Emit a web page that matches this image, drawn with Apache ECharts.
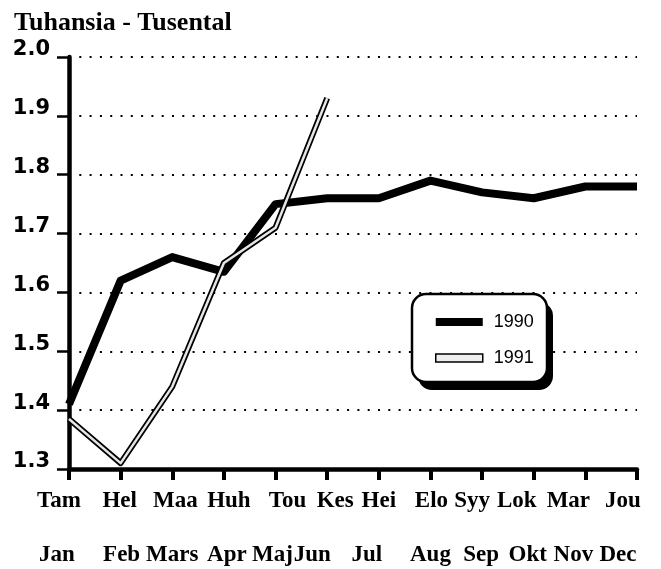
<!DOCTYPE html>
<html>
<head>
<meta charset="utf-8">
<script src="https://cdn.jsdelivr.net/npm/echarts@6/dist/echarts.min.js"></script>
<style>
  html, body { margin: 0; padding: 0; background: #fff; }
  #chart { width: 661px; height: 569px; }
</style>
</head>
<body>
<div id="chart"></div>
<script>
// month names, Finnish row and Swedish row
const monthsFi = ["Tam", "Hel", "Maa", "Huh", "Tou", "Kes", "Hei", "Elo", "Syy", "Lok", "Mar", "Jou"];
const monthsSv = ["Jan", "Feb", "Mars", "Apr", "Maj", "Jun", "Jul", "Aug", "Sep", "Okt", "Nov", "Dec"];

// values in thousands
const values1990 = [1.41, 1.62, 1.66, 1.635, 1.75, 1.76, 1.76, 1.79, 1.77, 1.76, 1.78, 1.78];
const values1991 = [1.385, 1.31, 1.44, 1.65, 1.71, 1.93];

const yTicks = [1.3, 1.4, 1.5, 1.6, 1.7, 1.8, 1.9, 2.0];

// the month names in the original are typed, not centred on the ticks: px shift per label
const shiftFi = [-10, -1, 3, 5, 12, 8, 0, 1, -10, -17, -17, -14];
const shiftSv = [-12, 1, 0, 3, -3, -15, -12, 0, -1, -6, -12, -19];

const labelRich = {};
monthsFi.forEach((m, i) => {
    const pad = s => s >= 0 ? [0, 0, 0, 2 * s] : [0, -2 * s, 0, 0];
    labelRich["f" + i] = { padding: pad(shiftFi[i]) };
    labelRich["s" + i] = { padding: pad(shiftSv[i]) };
});

const chart = echarts.init(document.getElementById("chart"));

const option = {
    animation: false,
    backgroundColor: "#fff",
    title: {
        text: "Tuhansia - Tusental",
        left: 9,
        top: 5,
        textStyle: {
            fontFamily: "Liberation Serif",
            fontSize: 26,
            fontWeight: "bold",
            color: "#000"
        }
    },
    // rounded legend frame with its drop shadow
    graphic: [
        {
            type: "rect",
            z: 10,
            shape: { x: 418, y: 302, width: 135, height: 88, r: 14 },
            style: { fill: "#000" }
        },
        {
            type: "rect",
            z: 11,
            shape: { x: 412, y: 294, width: 135, height: 88, r: 14 },
            style: { fill: "#fff", stroke: "#000", lineWidth: 2.5 }
        }
    ],
    legend: {
        left: 435,
        top: 313,
        z: 20,
        orient: "vertical",
        padding: 0,
        itemWidth: 47,
        itemHeight: 8,
        itemGap: 18,
        textStyle: {
            fontFamily: "Liberation Sans",
            fontSize: 18,
            color: "#000",
            padding: [0, 0, 0, 6]
        },
        data: [
            { name: "1990", icon: "rect", itemStyle: { color: "#000" } },
            { name: "1991", icon: "rect", itemStyle: { color: "#eee", borderColor: "#000", borderWidth: 1.5 } }
        ]
    },
    grid: {
        left: 69,
        right: 24,
        top: 57,
        bottom: 100,
        outerBoundsMode: "none"
    },
    xAxis: {
        type: "category",
        data: monthsFi,
        boundaryGap: false,
        axisLine: { lineStyle: { color: "#000", width: 4.5 } },
        axisTick: { show: true, length: 11, lineStyle: { color: "#000", width: 4 } },
        axisLabel: {
            margin: 19,
            fontFamily: "Liberation Serif",
            fontWeight: "bold",
            fontSize: 23,
            color: "#000",
            lineHeight: 27,
            interval: 0,
            hideOverlap: false,
            formatter: (v, i) => "{f" + i + "|" + v + "}\n\n{s" + i + "|" + monthsSv[i] + "}",
            rich: labelRich
        },
        splitLine: { show: false }
    },
    yAxis: {
        type: "value",
        min: 1.3,
        max: 2.0,
        interval: 0.1,
        axisLine: { show: true, lineStyle: { color: "#000", width: 4.5 } },
        axisTick: { show: true, length: 12, lineStyle: { color: "#000", width: 2.5 } },
        axisLabel: {
            margin: 19,
            fontFamily: "DejaVu Sans",
            fontWeight: "bold",
            fontSize: 21,
            color: "#000",
            verticalAlign: "bottom",
            lineHeight: 14,
            formatter: v => {
                const t = yTicks.find(k => Math.abs(k - v) < 1e-6);
                return t !== undefined ? t.toFixed(1) : "";
            }
        },
        splitLine: {
            show: true,
            lineStyle: { color: "#000", width: 2, type: [2, 8.3] }
        }
    },
    series: [
        {
            name: "1990",
            type: "line",
            data: values1990,
            symbol: "none",
            lineStyle: { color: "#000", width: 8, join: "round" },
            itemStyle: { color: "#000" },
            z: 2
        },
        {
            name: "1991",
            type: "line",
            data: values1991,
            symbol: "none",
            lineStyle: { color: "#000", width: 6, join: "round" },
            itemStyle: { color: "#000" },
            z: 3
        },
        {
            name: "1991 inner",
            type: "line",
            data: values1991,
            symbol: "none",
            lineStyle: { color: "#e6e6e6", width: 2.5, join: "round" },
            itemStyle: { color: "#e6e6e6" },
            z: 4
        }
    ]
};

chart.setOption(option);
</script>
</body>
</html>
